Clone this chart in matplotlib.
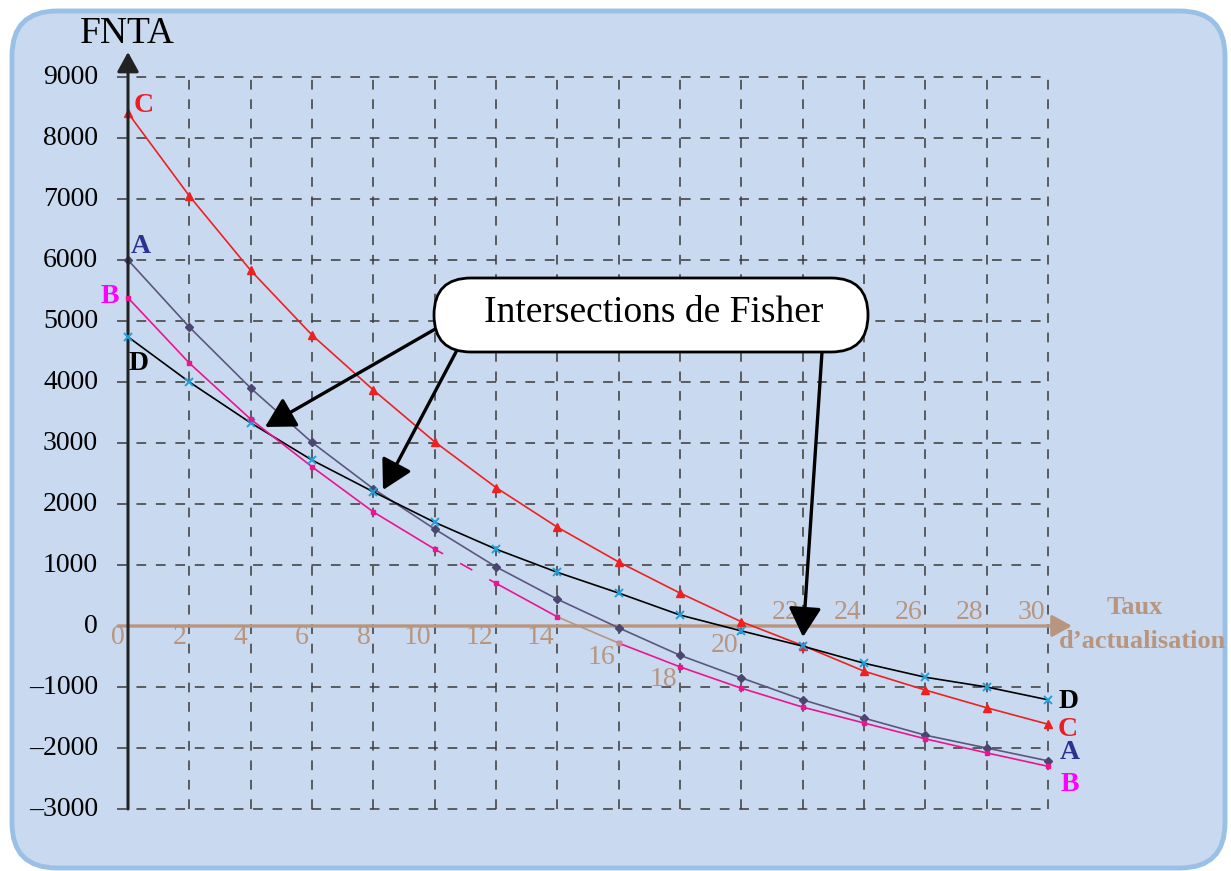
import matplotlib
matplotlib.use('Agg')
import matplotlib.pyplot as plt
from matplotlib.patches import FancyBboxPatch
from matplotlib.transforms import IdentityTransform

# data
taux = [0, 2, 4, 6, 8, 10, 12, 14, 16, 18, 20, 22, 24, 26, 28, 30]
fnta_a = [6000, 4900, 3900, 3010, 2250, 1590, 970, 440, -30, -480,
          -850, -1210, -1510, -1790, -2000, -2210]
fnta_b = [5380, 4310, 3390, 2610, 1870, 1260, 700, 150, -280, -670,
          -1020, -1330, -1590, -1850, -2080, -2300]
fnta_c = [8410, 7050, 5830, 4770, 3870, 3020, 2270, 1620, 1050, 540,
          70, -320, -740, -1050, -1340, -1610]
fnta_d = [4740, 4000, 3330, 2720, 2200, 1700, 1260, 880, 540, 180,
          -80, -330, -610, -840, -1000, -1210]
y_ticks = [9000, 8000, 7000, 6000, 5000, 4000, 3000, 2000, 1000, 0,
           -1000, -2000, -3000]
x_ticks = taux

# pixel <-> data helpers (figure is 1231x871 px at dpi 100)
W, H = 1231, 871
X0, XS = 128, 920 / 30
Y0, YS = 626, 0.061


def px(x):
    return (x - X0) / XS


def py(y):
    return (Y0 - y) / YS


SERIF = 'Liberation Serif'
TAN = '#b8957f'
plt.rcParams['lines.scale_dashes'] = False

fig = plt.figure(figsize=(W / 100, H / 100), dpi=100)
ax = fig.add_axes([0, 0, 1, 1])
ax.set_xlim(px(0), px(W))
ax.set_ylim(py(H), py(0))
ax.axis('off')

# background rounded panel
ax.add_patch(FancyBboxPatch((12, 3), 1213, 857,
                            boxstyle='round,pad=0,rounding_size=45',
                            transform=IdentityTransform(), fc='#c9daf0',
                            ec='#9bc0e6', lw=3.5, zorder=0, clip_on=False))

# dashed grid
grid_kw = dict(color='#3a3a3a', lw=1.1, linestyles=[(0, (7, 7))], zorder=1)
ax.vlines(x_ticks[1:], -3000, 9000, **grid_kw)
ax.hlines([v for v in y_ticks if v != 0], px(117), 30, **grid_kw)

# axes with arrows
ax.annotate('', xy=(0, py(52)), xytext=(0, -3000),
            arrowprops=dict(arrowstyle='-|>,head_length=0.6,head_width=0.33',
                            mutation_scale=20, lw=2.2, color='#222222',
                            shrinkA=0, shrinkB=0), zorder=5)
ax.annotate('', xy=(px(1072), 0), xytext=(px(118), 0),
            arrowprops=dict(arrowstyle='-|>,head_length=0.6,head_width=0.33',
                            mutation_scale=20, lw=2.4, color=TAN,
                            shrinkA=0, shrinkB=0), zorder=2)

# series
ax.plot(taux, fnta_c, color='#ee2020', lw=1.2, marker='^', ms=6,
        mec='#ee2020', zorder=4)
ax.plot(taux, fnta_a, color='#5a577e', lw=1.2, marker='D', ms=4,
        mfc='#4a4670', mec='#4a4670', zorder=4)
ax.plot(taux, fnta_d, color='black', lw=1.2, zorder=4)
ax.plot(taux, fnta_d, ls='none', marker='x', ms=6, mew=1.4,
        color='#1ea0dc', zorder=5)

pink = '#ec1490'
ax.plot(taux[:6], fnta_b[:6], color=pink, lw=1.2, zorder=4)
ax.plot(taux[5:7], fnta_b[5:7], color=pink, lw=1.2, ls=(3, (10, 14)),
        zorder=4)
ax.plot(taux[6:8], fnta_b[6:8], color=pink, lw=1.2, zorder=4)
ax.plot(taux[7:9], fnta_b[7:9], color=TAN, lw=1.2, zorder=4)
ax.plot(taux[8:], fnta_b[8:], color=pink, lw=1.2, zorder=4)
ax.plot(taux, fnta_b, ls='none', marker='s', ms=3.5, color=pink, zorder=5)
ax.plot(taux[8], fnta_b[8], ls='none', marker='s', ms=3.5, color=TAN,
        zorder=6)

# y tick labels
for v in y_ticks:
    lab = str(v) if v >= 0 else '\u2013' + str(-v)
    ax.text(px(98), v, lab, ha='right', va='center', fontsize=20,
            family=SERIF, color='black')

# x tick labels (tan, staggered below/above the axis)
lab_y = [637, 637, 637, 637, 637, 637, 637, 637, 657, 679, 645,
         612, 612, 612, 612, 612]
for v, yy in zip(x_ticks, lab_y):
    ax.text(v - px(X0 + 3), py(yy), str(v), ha='right', va='center',
            fontsize=20, family=SERIF, color=TAN)

ax.text(px(127), py(34), 'FNTA', ha='center', va='center', fontsize=27,
        family=SERIF, color='black')
ax.text(px(1135), py(607), 'Taux', ha='center', va='center', fontsize=19,
        family=SERIF, weight='bold', color=TAN)
ax.text(px(1142), py(641), 'd\u2019actualisation', ha='center',
        va='center', fontsize=19, family=SERIF, weight='bold', color=TAN)

# series letters
letters = [('C', 144, 106, '#ed1c24'), ('A', 141, 246, '#2e3192'),
           ('B', 110, 296, '#ff00ff'), ('D', 139, 363, 'black'),
           ('D', 1069, 701, 'black'), ('C', 1068, 729, '#ed1c24'),
           ('A', 1070, 752, '#2e3192'), ('B', 1070, 784, '#ff00ff')]
for t, x, y, c in letters:
    ax.text(px(x), py(y), t, ha='center', va='center', fontsize=20,
            family=SERIF, weight='bold', color=c, zorder=6)

# callout
ax.add_patch(FancyBboxPatch((434, H - 352), 434, 74,
                            boxstyle='round,pad=0,rounding_size=37',
                            transform=IdentityTransform(), fc='white',
                            ec='black', lw=2, zorder=7, clip_on=False))
ax.text(px(654), py(313), 'Intersections de Fisher', ha='center',
        va='center', fontsize=27, family=SERIF, color='black', zorder=8)

arrow_kw = dict(arrowstyle='-|>,head_length=0.9,head_width=0.5',
                mutation_scale=20, lw=2.4, color='black',
                shrinkA=0, shrinkB=0)
for (sx, sy), (tx, ty) in [((437, 328), (265, 427)),
                           ((456, 352), (383, 490)),
                           ((822, 352), (803, 637))]:
    ax.annotate('', xy=(px(tx), py(ty)), xytext=(px(sx), py(sy)),
                arrowprops=arrow_kw, zorder=6)

fig.savefig('out.png', dpi=100, facecolor='white')
